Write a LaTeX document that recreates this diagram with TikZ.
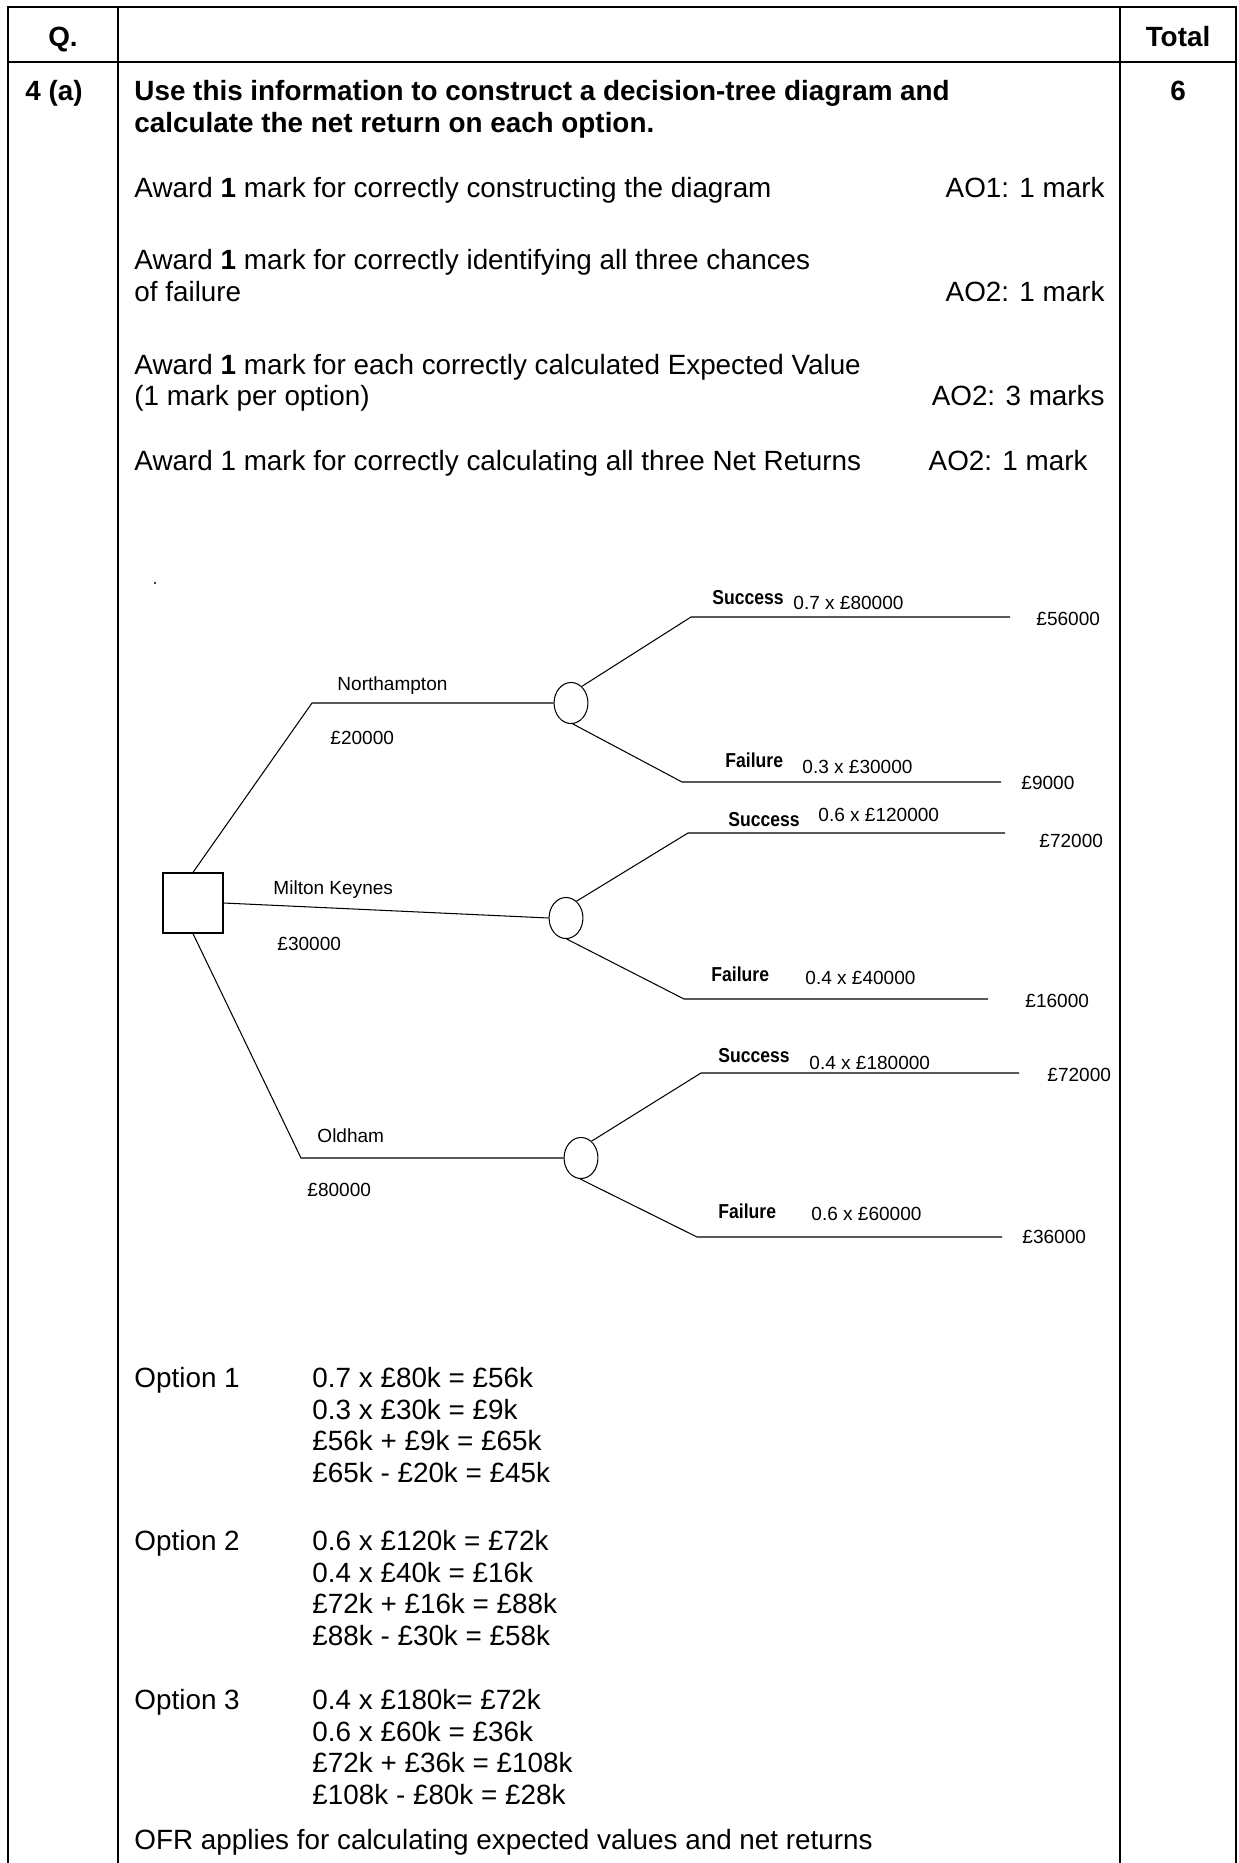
\documentclass[tikz,border=0pt]{standalone}
\usepackage{fontspec}
\setmainfont{Liberation Sans}
\newfontfamily\treefont{Liberation Sans}
\newfontfamily\treeboldfont{Liberation Sans}[FakeStretch=0.87]
\usetikzlibrary{shapes.geometric}
\begin{document}
\begin{tikzpicture}[x=0.431pt,y=-0.431pt,
  tbl/.style={line width=0.9pt},
  tree/.style={line width=0.45pt},
  body/.style={font=\fontsize{12}{13.8}\selectfont, inner sep=0pt, anchor=base west},
  bodyb/.style={font=\bfseries\fontsize{12}{13.8}\selectfont, inner sep=0pt, anchor=base west},
  hdr/.style={font=\bfseries\fontsize{12}{13.8}\selectfont, inner sep=0pt, anchor=base},
  aomark/.style={font=\fontsize{12}{13.8}\selectfont, inner sep=0pt, anchor=base east},
  lbl/.style={font=\treefont\fontsize{8.2}{9}\selectfont, inner sep=0pt, anchor=base west},
  outc/.style={font=\treeboldfont\bfseries\fontsize{8.7}{9}\selectfont, inner sep=0pt, anchor=base west},
  chance/.style={ellipse, draw, line width=0.45pt, minimum width=14.6pt, minimum height=17.7pt, inner sep=0pt},
  decision/.style={draw, line width=0.5pt, minimum size=25.9pt, inner sep=0pt}
]
\useasboundingbox (0,0) rectangle (1239,1863);
\fill[white] (0,0) rectangle (1239,1863);
% table frame
\draw[tbl] (8,1863) -- (8,7) -- (1236,7) -- (1236,1863);
\draw[tbl] (118,7) -- (118,1863);
\draw[tbl] (1120,7) -- (1120,1863);
\draw[tbl] (8,62) -- (1236,62);
% header
\node[hdr] (q) at (63,47) {Q.};
\node[hdr] (tot) at (1178,47) {Total};
\node[bodyb] (qn) at (25,101) {4 (a)};
\node[hdr] (six) at (1178,101) {6};
\node[bodyb] (t1) at (134,101) {Use this information to construct a decision-tree diagram and};
\node[bodyb] (t2) at (134,133) {calculate the net return on each option.};
% marking lines
\node[body] (a1) at (134,198) {Award \textbf{1} mark for correctly constructing the diagram};
\node[aomark] (m1) at (1105,198) {AO1: 1 mark};
\node[body] (a2) at (134,270) {Award \textbf{1} mark for correctly identifying all three chances};
\node[body] (a2b) at (134,302) {of failure};
\node[aomark] (m2) at (1105,302) {AO2: 1 mark};
\node[body] (a3) at (134,375) {Award \textbf{1} mark for each correctly calculated Expected Value};
\node[body] (a3b) at (134,406) {(1 mark per option)};
\node[aomark] (m3) at (1105,406) {AO2: 3 marks};
\node[body] (a4) at (134,470) {Award 1 mark for correctly calculating all three Net Returns};
\node[aomark] (m4) at (1088,470) {AO2: 1 mark};
% decision tree
\node[circle, fill, inner sep=0pt, minimum size=1pt] (dot) at (155,583) {};
\node[decision] (dec) at (193,903) {};
\node[chance] (c1) at (571,703) {};
\node[chance] (c2) at (566,918) {};
\node[chance] (c3) at (581,1158) {};
\coordinate (nc) at (312,703);
\coordinate (oc) at (301,1158);
\draw[tree] (dec.north) -- (nc) -- (c1.west);
\draw[tree] (dec.east) -- (c2.west);
\draw[tree] (dec.south) -- (oc) -- (c3.west);
\coordinate (s1c) at (691,617); \coordinate (s1e) at (1010,617);
\coordinate (f1c) at (682,782); \coordinate (f1e) at (1001,782);
\coordinate (s2c) at (688,833); \coordinate (s2e) at (1005,833);
\coordinate (f2c) at (684,999); \coordinate (f2e) at (988,999);
\coordinate (s3c) at (701,1073); \coordinate (s3e) at (1019,1073);
\coordinate (f3c) at (697,1237); \coordinate (f3e) at (1002,1237);
\draw[tree] (c1.57) -- (s1c) -- (s1e);
\draw[tree] (c1.-85) -- (f1c) -- (f1e);
\draw[tree] (c2.58) -- (s2c) -- (s2e);
\draw[tree] (c2.-88) -- (f2c) -- (f2e);
\draw[tree] (c3.58) -- (s3c) -- (s3e);
\draw[tree] (c3.-92) -- (f3c) -- (f3e);
% branch labels
\node[lbl] (ln) at (337,690) {Northampton};
\node[lbl] (ln2) at (330,744) {£20000};
\node[lbl] (lm) at (273,894) {Milton Keynes};
\node[lbl] (lm2) at (277,950) {£30000};
\node[lbl] (lo) at (317,1142) {Oldham};
\node[lbl] (lo2) at (307,1196) {£80000};
% outcome labels
\node[outc] (o1) at (712,604) {Success};
\node[lbl] (p1) at (793,609) {0.7 x £80000};
\node[lbl] (v1) at (1036,625) {£56000};
\node[outc] (o2) at (725,767) {Failure};
\node[lbl] (p2) at (802,773) {0.3 x £30000};
\node[lbl] (v2) at (1021,789) {£9000};
\node[outc] (o3) at (728,826) {Success};
\node[lbl] (p3) at (818,821) {0.6 x £120000};
\node[lbl] (v3) at (1039,847) {£72000};
\node[outc] (o4) at (711,981) {Failure};
\node[lbl] (p4) at (805,984) {0.4 x £40000};
\node[lbl] (v4) at (1025,1007) {£16000};
\node[outc] (o5) at (718,1062) {Success};
\node[lbl] (p5) at (809,1069) {0.4 x £180000};
\node[lbl] (v5) at (1047,1081) {£72000};
\node[outc] (o6) at (718,1218) {Failure};
\node[lbl] (p6) at (811,1220) {0.6 x £60000};
\node[lbl] (v6) at (1022,1243) {£36000};
% options
\node[body] (op1) at (134,1387) {Option 1};
\node[body] (op1a) at (312,1387) {0.7 x £80k = £56k};
\node[body] (op1b) at (312,1419) {0.3 x £30k = £9k};
\node[body] (op1c) at (312,1450) {£56k + £9k = £65k};
\node[body] (op1d) at (312,1482) {£65k - £20k = £45k};
\node[body] (op2) at (134,1550) {Option 2};
\node[body] (op2a) at (312,1550) {0.6 x £120k = £72k};
\node[body] (op2b) at (312,1582) {0.4 x £40k = £16k};
\node[body] (op2c) at (312,1613) {£72k + £16k = £88k};
\node[body] (op2d) at (312,1645) {£88k - £30k = £58k};
\node[body] (op3) at (134,1709) {Option 3};
\node[body] (op3a) at (312,1709) {0.4 x £180k= £72k};
\node[body] (op3b) at (312,1741) {0.6 x £60k = £36k};
\node[body] (op3c) at (312,1772) {£72k + £36k = £108k};
\node[body] (op3d) at (312,1804) {£108k - £80k = £28k};
\node[body] (ofr) at (134,1849) {OFR applies for calculating expected values and net returns};
\end{tikzpicture}
\end{document}
